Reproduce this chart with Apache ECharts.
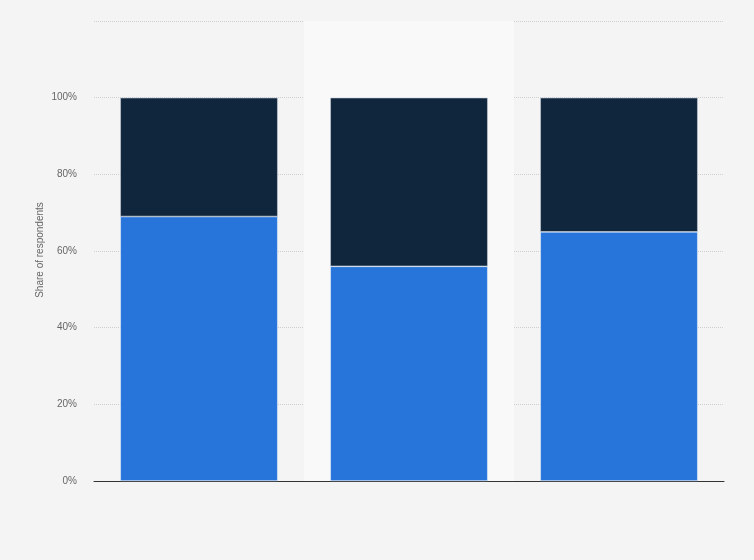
<!DOCTYPE html>
<html>
<head>
<meta charset="utf-8">
<script src="https://cdn.jsdelivr.net/npm/echarts@6/dist/echarts.min.js"></script>
<style>
html,body{margin:0;padding:0;background:#f4f4f4;}
#c{width:754px;height:560px;}
</style>
</head>
<body>
<div id="c"></div>
<script>
const categories = ['A', 'B', 'C'];
const seriesNames = ['Yes', 'No'];
const lowerValues = [69, 56, 65];
const upperValues = [31, 44, 35];
const yTicks = [0, 20, 40, 60, 80, 100, 120];
const yAxisTitle = 'Share of respondents';

const chart = echarts.init(document.getElementById('c'));
chart.setOption({
  backgroundColor: '#f4f4f4',
  animation: false,
  grid: { left: 94, right: 30, top: 21, bottom: 79 },
  graphic: [{
    type: 'text',
    x: 40, y: 250,
    rotation: Math.PI / 2,
    style: {
      text: yAxisTitle,
      fill: '#666',
      fontSize: 10,
      fontFamily: 'Arial, Liberation Sans, sans-serif',
      align: 'center',
      verticalAlign: 'middle'
    }
  }],
  xAxis: {
    type: 'category',
    data: categories,
    axisLine: { lineStyle: { color: '#333', width: 1 } },
    axisTick: { show: false },
    axisLabel: { show: false },
    splitArea: { show: true, areaStyle: { color: ['rgba(0,0,0,0)', '#f9f9f9'] } }
  },
  yAxis: {
    type: 'value',
    min: yTicks[0], max: yTicks[yTicks.length - 1], interval: 20,
    axisLine: { show: false },
    axisTick: { show: false },
    axisLabel: {
      color: '#666', fontSize: 10, margin: 17,
      fontFamily: 'Arial, Liberation Sans, sans-serif',
      formatter: v => (v > 100 ? '' : v + '%')
    },
    splitLine: { lineStyle: { color: '#cfcfcf', type: [1, 1], width: 1 } }
  },
  series: [
    {
      name: seriesNames[0], type: 'bar', stack: 's', data: lowerValues,
      barWidth: '75%',
      itemStyle: { color: '#2775db', borderColor: '#e8eef6', borderWidth: 0.6 }
    },
    {
      name: seriesNames[1], type: 'bar', stack: 's', data: upperValues,
      barWidth: '75%',
      itemStyle: { color: '#10263d', borderColor: '#c8d0da', borderWidth: 0.6 }
    }
  ]
});
</script>
</body>
</html>
